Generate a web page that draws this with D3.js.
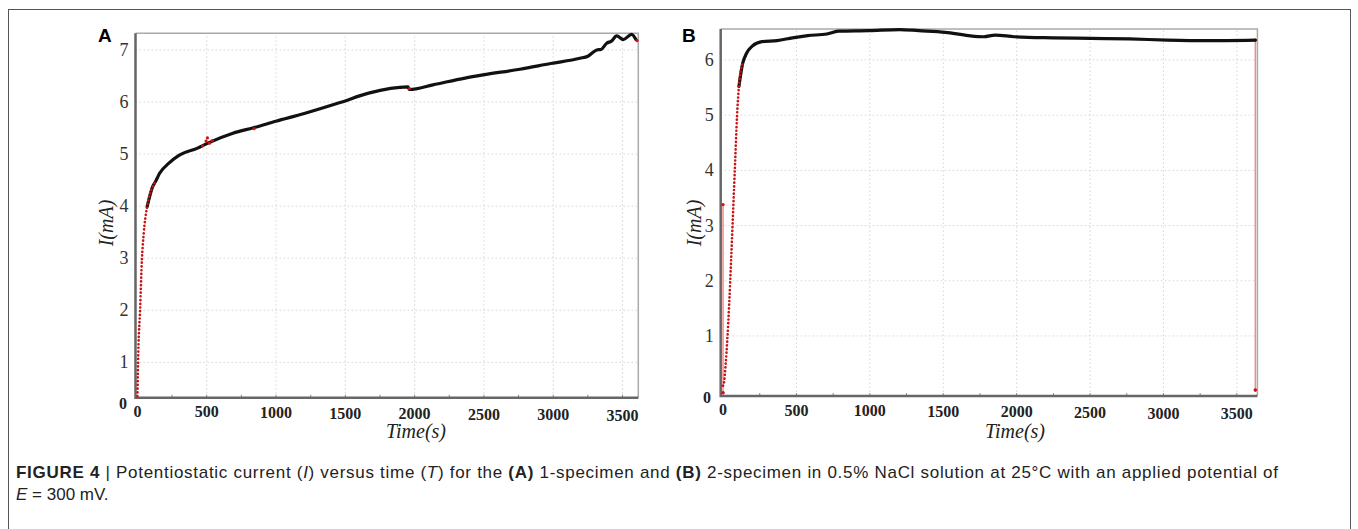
<!DOCTYPE html>
<html>
<head>
<meta charset="utf-8">
<script src="https://cdn.jsdelivr.net/npm/d3@7"></script>
<style>
  body { margin: 0; background: #fff; }
  svg { display: block; }
</style>
</head>
<body>
<script>
// tick values
const xTicks = [0, 500, 1000, 1500, 2000, 2500, 3000, 3500]
const xMinor = [250, 750, 1250, 1750, 2250, 2750, 3250]
const yTicksA = [1, 2, 3, 4, 5, 6, 7]
const yTicksB = [1, 2, 3, 4, 5, 6]

// panel A: 1-specimen, time (s) / current (mA)
const riseA = [[0, 0.35], [6, 1.17], [19, 2.0], [32, 2.96], [45, 3.47], [70, 3.99], [109, 4.37], [134, 4.49]]
const curveA = [[70, 3.99], [109, 4.37], [134, 4.49], [160, 4.63], [225, 4.82], [302, 4.98], [430, 5.11],
  [508, 5.21], [689, 5.40], [843, 5.51], [998, 5.63], [1204, 5.78], [1462, 5.99], [1668, 6.17],
  [1952, 6.29], [1962, 6.24], [2132, 6.33], [2364, 6.46], [2493, 6.52], [2760, 6.63], [2982, 6.74],
  [3193, 6.84], [3250, 6.88], [3314, 7.0], [3345, 7.01], [3386, 7.13], [3420, 7.17], [3458, 7.27],
  [3506, 7.2], [3566, 7.3], [3597, 7.2]]
const redMarksA = [[470, 5.16], [495, 5.25], [505, 5.31], [520, 5.21], [540, 5.26], [843, 5.49], [1962, 6.26], [3605, 7.18]]

// panel B: 2-specimen
const riseB = [[0, 0.1], [5, 0.13], [18, 0.5], [29, 0.93], [42, 1.59], [55, 2.38], [68, 3.22], [82, 4.13],
  [95, 4.97], [108, 5.52], [134, 5.94]]
const curveB = [[108, 5.52], [134, 5.94], [160, 6.12], [199, 6.25], [264, 6.33], [368, 6.35],
  [473, 6.40], [577, 6.44], [707, 6.47], [785, 6.52], [994, 6.53], [1202, 6.55], [1333, 6.53],
  [1515, 6.50], [1672, 6.44], [1776, 6.42], [1854, 6.45], [1984, 6.42], [2245, 6.40], [2506, 6.39],
  [2766, 6.38], [3027, 6.36], [3288, 6.35], [3626, 6.36]]
const spikeT = [0, 3626]
const spikeTop = [3.38, 6.36]
const spikeBottom = [-0.03, 0.02]

const svg = d3.select('body').append('svg')
    .attr('width', 1358)
    .attr('height', 529)

// outer figure frame
svg.append('rect')
    .attr('x', 8.5).attr('y', 9.5)
    .attr('width', 1342).attr('height', 540)
    .attr('fill', 'none')
    .attr('stroke', '#555')
    .attr('stroke-width', 1)

const serif = "'Liberation Serif', 'Times New Roman', serif"

function panel(opt) {
    const x = d3.scaleLinear().domain(opt.xDomain).range(opt.xRange)
    const y = d3.scaleLinear().domain(opt.yDomain).range(opt.yRange)
    const g = svg.append('g')
    const [x0, x1] = opt.xRange, [y0, y1] = opt.yRange

    // dotted grid
    g.selectAll('.vgrid').data(xTicks.slice(1)).enter().append('line')
        .attr('x1', d => x(d)).attr('x2', d => x(d))
        .attr('y1', y0).attr('y2', y1)
        .attr('stroke', '#d6d6d6').attr('stroke-dasharray', '1.5,2.5')
    g.selectAll('.hgrid').data(opt.yTicks).enter().append('line')
        .attr('x1', x0).attr('x2', x1)
        .attr('y1', d => y(d)).attr('y2', d => y(d))
        .attr('stroke', '#d6d6d6').attr('stroke-dasharray', '1.5,2.5')

    // light top / right border
    g.append('path')
        .attr('d', `M${x0},${y1}H${x1}V${y0}`)
        .attr('fill', 'none').attr('stroke', '#aaa').attr('stroke-width', 1.5)

    // minor ticks on the bottom axis
    g.selectAll('.minor').data(xMinor.concat(xTicks.slice(1))).enter().append('line')
        .attr('x1', d => x(d)).attr('x2', d => x(d))
        .attr('y1', y0).attr('y2', y0 - 3)
        .attr('stroke', '#888').attr('stroke-width', 1)

    // dark left and bottom axis
    g.append('path')
        .attr('d', `M${x0},${y1}V${y0}H${x1}`)
        .attr('fill', 'none').attr('stroke', '#666').attr('stroke-width', 2.5)

    const line = d3.line().x(d => x(d[0])).y(d => y(d[1])).curve(d3.curveMonotoneX)

    // extra red spikes (panel B)
    if (opt.spikes) {
        opt.spikes.forEach((t, i) => {
            g.append('line')
                .attr('x1', x(t)).attr('x2', x(t))
                .attr('y1', y(spikeTop[i])).attr('y2', y(spikeBottom[i]))
                .attr('stroke', '#f28a8a').attr('stroke-width', 1.5)
            g.append('circle').attr('cx', x(t)).attr('cy', y(spikeBottom[i])).attr('r', 1.8).attr('fill', '#d01010')
            g.append('circle').attr('cx', x(t)).attr('cy', y(spikeTop[i])).attr('r', 1.6).attr('fill', '#d01010')
        })
    }

    // black measured curve
    g.append('path')
        .datum(opt.curve)
        .attr('d', line)
        .attr('fill', 'none')
        .attr('stroke', '#111')
        .attr('stroke-width', 3.2)
        .attr('stroke-linejoin', 'round')
        .attr('stroke-linecap', 'round')

    // red dotted start of the curve
    g.append('path')
        .datum(opt.rise)
        .attr('d', line)
        .attr('fill', 'none')
        .attr('stroke', '#c81414')
        .attr('stroke-width', 2.6)
        .attr('stroke-linecap', 'round')
        .attr('stroke-dasharray', '0.1,3.6')

    if (opt.marks) {
        g.selectAll('.mark').data(opt.marks).enter().append('circle')
            .attr('cx', d => x(d[0])).attr('cy', d => y(d[1]))
            .attr('r', 1.6).attr('fill', '#d01010')
    }

    // x tick labels
    g.selectAll('.xl').data(xTicks).enter().append('text')
        .attr('x', d => x(d))
        .attr('y', (d, i) => y0 + 19 + i * 0.6)
        .attr('text-anchor', 'middle')
        .style('font-family', serif)
        .style('font-weight', 'bold')
        .style('font-size', '16px')
        .attr('fill', '#222')
        .text(d => d)

    // y tick labels
    g.selectAll('.yl').data(opt.yTicks).enter().append('text')
        .attr('x', x0 - 7)
        .attr('y', d => y(d) + 6)
        .attr('text-anchor', 'end')
        .style('font-family', serif)
        .style('font-size', '18px')
        .attr('fill', '#333')
        .text(d => d)

    g.append('text')
        .attr('x', opt.zeroX)
        .attr('y', opt.zeroY)
        .attr('text-anchor', 'middle')
        .style('font-family', serif)
        .style('font-weight', 'bold')
        .style('font-size', '16px')
        .attr('fill', '#222')
        .text('0')

    // axis titles
    g.append('text')
        .attr('x', opt.xTitle[0]).attr('y', opt.xTitle[1])
        .attr('text-anchor', 'middle')
        .style('font-family', serif)
        .style('font-style', 'italic')
        .style('font-size', '20px')
        .attr('fill', '#222')
        .text('Time(s)')

    g.append('text')
        .attr('text-anchor', 'middle')
        .attr('transform', `translate(${opt.yTitle[0]},${opt.yTitle[1]})rotate(-90)`)
        .style('font-family', serif)
        .style('font-style', 'italic')
        .style('font-size', '20px')
        .attr('fill', '#222')
        .text('I(mA)')

    // panel letter
    g.append('text')
        .attr('x', opt.letter[0]).attr('y', opt.letter[1])
        .style('font-family', "'Liberation Sans', Arial, sans-serif")
        .style('font-weight', 'bold')
        .style('font-size', '19px')
        .attr('fill', '#000')
        .text(opt.name)
}

panel({
    name: 'A',
    xDomain: [-14, 3614], xRange: [135.5, 638.3],
    yDomain: [0.32, 7.32], yRange: [397.7, 33.3],
    yTicks: yTicksA,
    rise: riseA, curve: curveA, marks: redMarksA,
    zeroX: 123, zeroY: 409,
    xTitle: [416, 438], yTitle: [113, 223],
    letter: [98, 42]
})

panel({
    name: 'B',
    xDomain: [-16, 3640], xRange: [720.7, 1257.4],
    yDomain: [-0.087, 6.56], yRange: [396, 29],
    yTicks: yTicksB,
    rise: riseB, curve: curveB, spikes: spikeT,
    zeroX: 707, zeroY: 403,
    xTitle: [1015, 438], yTitle: [701, 223],
    letter: [682, 42]
})

// caption
const cap = svg.append('text')
    .attr('x', 16).attr('y', 478)
    .attr('textLength', 1262)
    .attr('lengthAdjust', 'spacing')
    .style('font-family', "'Liberation Sans', Arial, sans-serif")
    .style('font-size', '17px')
    .attr('fill', '#222')
const parts = [
    ['FIGURE 4', 'bold', 'normal'], [' | ', 'normal', 'normal'],
    ['Potentiostatic current (', 'normal', 'normal'], ['I', 'normal', 'italic'],
    [') versus time (', 'normal', 'normal'], ['T', 'normal', 'italic'],
    [') for the ', 'normal', 'normal'], ['(A)', 'bold', 'normal'],
    [' 1-specimen and ', 'normal', 'normal'], ['(B)', 'bold', 'normal'],
    [' 2-specimen in 0.5% NaCl solution at 25°C with an applied potential of', 'normal', 'normal']
]
parts.forEach(p => {
    cap.append('tspan').style('font-weight', p[1]).style('font-style', p[2]).text(p[0])
})
const cap2 = svg.append('text')
    .attr('x', 16).attr('y', 500)
    .style('font-family', "'Liberation Sans', Arial, sans-serif")
    .style('font-size', '17px')
    .attr('fill', '#222')
cap2.append('tspan').style('font-style', 'italic').text('E')
cap2.append('tspan').text(' = 300 mV.')
</script>
</body>
</html>
